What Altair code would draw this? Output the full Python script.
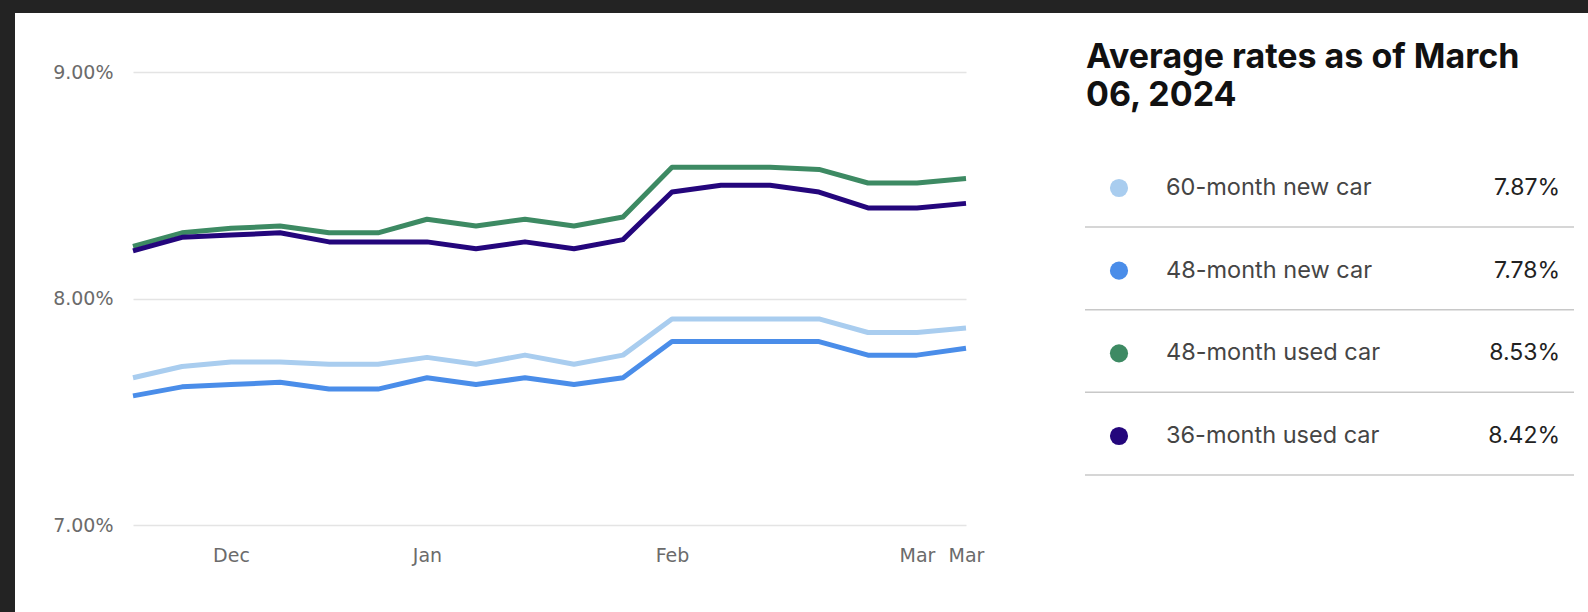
import altair as alt
import pandas as pd

# ---- data ----
dates = ["Nov 20", "Nov 27", "Dec 01", "Dec 08", "Dec 15", "Dec 22", "Jan 02", "Jan 09",
         "Jan 16", "Jan 23", "Jan 30", "Feb 06", "Feb 13", "Feb 20", "Feb 23", "Feb 27",
         "Mar 01", "Mar 06"]
tick_dates = ["Dec 01", "Jan 02", "Feb 06", "Mar 01", "Mar 06"]

series = ["60-month new car", "48-month new car", "48-month used car", "36-month used car"]
colors = ["#a9cdef", "#4a8de9", "#3d8a63", "#24067c"]

rate_60_new = [7.65, 7.70, 7.72, 7.72, 7.71, 7.71, 7.74, 7.71, 7.75, 7.71, 7.75, 7.91, 7.91, 7.91, 7.91, 7.85, 7.85, 7.87]
rate_48_new = [7.57, 7.61, 7.62, 7.63, 7.60, 7.60, 7.65, 7.62, 7.65, 7.62, 7.65, 7.81, 7.81, 7.81, 7.81, 7.75, 7.75, 7.78]
rate_48_used = [8.23, 8.29, 8.31, 8.32, 8.29, 8.29, 8.35, 8.32, 8.35, 8.32, 8.36, 8.58, 8.58, 8.58, 8.57, 8.51, 8.51, 8.53]
rate_36_used = [8.21, 8.27, 8.28, 8.29, 8.25, 8.25, 8.25, 8.22, 8.25, 8.22, 8.26, 8.47, 8.50, 8.50, 8.47, 8.40, 8.40, 8.42]

y_ticks = [7, 8, 9]
title_lines = ["Average rates as of March", "06, 2024"]

all_rates = [rate_60_new, rate_48_new, rate_48_used, rate_36_used]

rows = []
for name, vals in zip(series, all_rates):
    for d, v in zip(dates, vals):
        rows.append({"date": d, "rate": v, "series": name})
df = pd.DataFrame(rows)

legend_df = pd.DataFrame({
    "series": series,
    "latest": [f"{vals[-1]:.2f}%" for vals in all_rates],
})

color_enc = alt.Color("series:N", scale=alt.Scale(domain=series, range=colors), legend=None)

lines = alt.Chart(df).mark_line(strokeWidth=5, strokeJoin="round", strokeCap="butt").encode(
    x=alt.X("date:O", sort=dates,
            scale=alt.Scale(type="point", padding=0),
            axis=alt.Axis(values=tick_dates, labelExpr="substring(datum.value, 0, 3)",
                          title=None, domain=False, ticks=False, grid=False,
                          labelAngle=0, labelOverlap=False, labelPadding=21,
                          labelFont="DejaVu Sans", labelFontSize=19, labelColor="#6b6b6b")),
    y=alt.Y("rate:Q",
            scale=alt.Scale(domain=[7, 9], nice=False, zero=False),
            axis=alt.Axis(values=y_ticks, labelExpr="format(datum.value, '.2f') + '%'",
                          title=None, domain=False, ticks=False, grid=True,
                          gridColor="#e4e4e4", gridWidth=1.5, labelPadding=20,
                          labelFont="DejaVu Sans", labelFontSize=19, labelColor="#6b6b6b")),
    color=color_enc,
    detail="series:N",
)

legend_y = alt.Y("series:N", scale=alt.Scale(type="point", domain=series, range=[116, 364], padding=0), axis=None)

dots = alt.Chart(legend_df).mark_circle(size=330, opacity=1).encode(
    x=alt.value(986), y=legend_y, color=color_enc)

labels = alt.Chart(legend_df).mark_text(align="left", baseline="middle", font="Inter",
                                        fontSize=23.5, color="#454545").encode(
    x=alt.value(1033), y=legend_y, text="series:N")

values = alt.Chart(legend_df).mark_text(align="right", baseline="middle", font="Inter",
                                        fontSize=23, color="#222222").encode(
    x=alt.value(1427), y=legend_y, text="latest:N")

seps = alt.Chart(legend_df).mark_rule(color="#c8c8c8", strokeWidth=1.5, yOffset=39).encode(
    x=alt.value(952), x2=alt.value(1441), y=legend_y)

title = alt.Chart(pd.DataFrame({"t": [0]})).mark_text(
    text=title_lines, align="left", baseline="alphabetic", font="Inter",
    fontSize=34, fontWeight="bold", color="#111111", lineHeight=38).encode(
    x=alt.value(953), y=alt.value(-4))

frame_df = pd.DataFrame({"t": [0]})
frame_top = alt.Chart(frame_df).mark_rect(color="#232323").encode(
    x=alt.value(-133), x2=alt.value(1455), y=alt.value(-72), y2=alt.value(-59))
frame_left = alt.Chart(frame_df).mark_rect(color="#232323").encode(
    x=alt.value(-133), x2=alt.value(-118), y=alt.value(-72), y2=alt.value(540))

chart = alt.layer(lines, seps, dots, labels, values, title, frame_top, frame_left).resolve_scale(
    y="independent"
).properties(
    width=833, height=453,
    autosize=alt.AutoSizeParams(type="none"),
    padding={"left": 133, "top": 72, "right": 622, "bottom": 87},
    background="#ffffff",
).configure_view(stroke=None)

chart.save("out.html", embed_options={"renderer": "svg", "actions": False})
